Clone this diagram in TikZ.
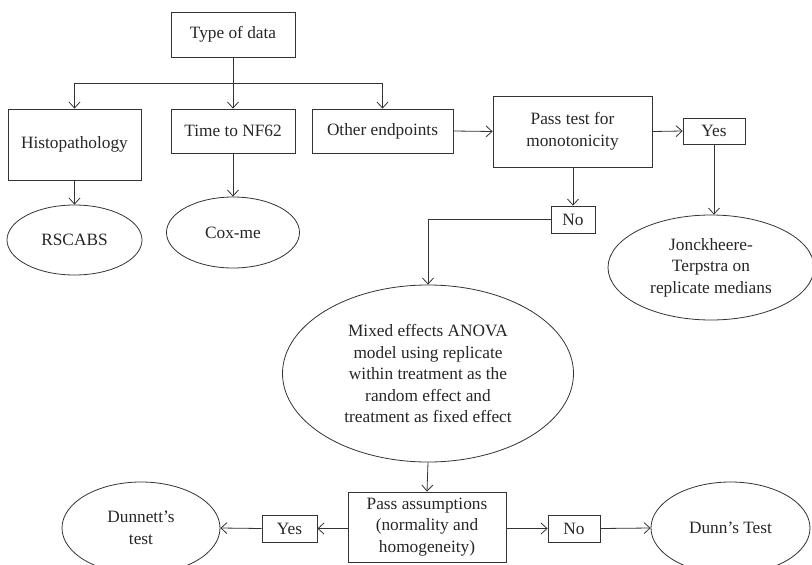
\documentclass[tikz,border=0pt]{standalone}
\usepackage{fontspec}
\setmainfont{Liberation Serif}
\usetikzlibrary{shapes.geometric,arrows.meta}
\begin{document}
\begin{tikzpicture}[x=1pt,y=-1pt,
  every node/.style={font=\fontsize{17.3}{21.5}\selectfont, text=black!85, align=center, inner sep=0pt},
  box/.style={draw=black!80, line width=0.8pt, rectangle},
  oval/.style={draw=black!80, line width=0.8pt, ellipse},
  conn/.style={draw=black!80, line width=0.8pt, -{Straight Barb[length=6pt,width=11pt]}},
  plain/.style={draw=black!80, line width=0.8pt}]
\path[use as bounding box] (0,0) rectangle (812,565);
% boxes
\node[box, minimum width=124pt, minimum height=45pt] (type) at (233,34.5) {Type of data};
\node[box, minimum width=133pt, minimum height=71pt] (histo) at (74.5,144.5) {Histopathology};
\node[box, minimum width=124pt, minimum height=44pt] (time) at (233,131) {Time to NF62};
\node[box, minimum width=141pt, minimum height=44pt] (other) at (382.5,131) {Other endpoints};
\node[box, minimum width=159pt, minimum height=71pt] (pass) at (572.5,131.5) {Pass test for\\monotonicity};
\node[box, minimum width=62pt, minimum height=26pt] (yes1) at (714,131) {Yes};
\node[box, minimum width=44pt, minimum height=27pt] (no1) at (573,219.5) {No};
\node[box, minimum width=158pt, minimum height=70pt] (pass2) at (427,527) {Pass assumptions\\(normality and\\homogeneity)};
\node[box, minimum width=55pt, minimum height=27pt] (yes2) at (289.5,528.5) {Yes};
\node[box, minimum width=52pt, minimum height=27pt] (no2) at (574,528.5) {No};
% ellipses
\node[oval, minimum width=135pt, minimum height=70pt] (rscabs) at (74.5,240) {RSCABS};
\node[oval, minimum width=133pt, minimum height=71pt] (coxme) at (233,232.5) {Cox-me};
\node[oval, minimum width=206pt, minimum height=105pt] (jonck) at (711,267.5) {Jonckheere-\\Terpstra on\\replicate medians};
\node[oval, minimum width=291pt, minimum height=177pt] (anova) at (428,373.5) {Mixed effects ANOVA\\model using replicate\\within treatment as the\\random effect and\\treatment as fixed effect};
\node[oval, minimum width=158pt, minimum height=92pt] (dunnett) at (141,528) {Dunnett's\\test};
\node[oval, minimum width=159pt, minimum height=92pt] (dunn) at (730.5,528) {Dunn's Test};
% connectors
\coordinate (split) at (233,83);
\draw[plain] (type.south) -- (split);
\draw[conn] (split) -- (time.north);
\draw[conn] (split) -| (histo.north);
\draw[conn] (split) -| (other.north);
\draw[conn] (histo.south) -- (rscabs.north);
\draw[conn] (time.south) -- (coxme.north);
\draw[conn] (other.east) -- (pass.west);
\draw[conn] (pass.east) -- (yes1.west);
\draw[conn] (yes1.south) -- (yes1.south |- jonck.north);
\draw[conn] (pass.south -| no1.north) -- (no1.north);
\draw[conn] (no1.west) -| (anova.north);
\draw[conn] (anova.south) -- (pass2.north);
\draw[conn] (pass2.west |- yes2.east) -- (yes2.east);
\draw[conn] (yes2.west) -- (dunnett.east);
\draw[conn] (pass2.east |- no2.west) -- (no2.west);
\draw[conn] (no2.east) -- (dunn.west);
\end{tikzpicture}
\end{document}
